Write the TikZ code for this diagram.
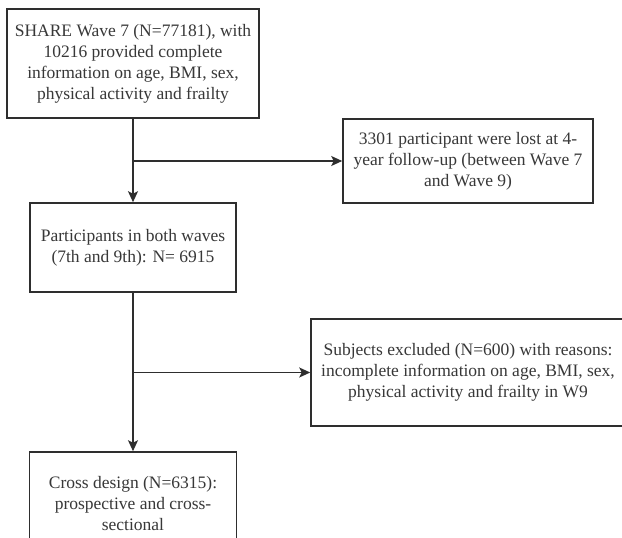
\documentclass[tikz,border=0pt]{standalone}
\usepackage{fontspec}
\setmainfont{Liberation Serif}
\usetikzlibrary{arrows.meta}
\definecolor{linecol}{HTML}{2E2E2E}
\definecolor{textcol}{HTML}{383838}
\begin{document}
\begin{tikzpicture}[x=1pt,y=-1pt,
  box/.style={draw=linecol, line width=1.6pt, fill=white, rectangle, inner sep=0pt,
              align=center, text=textcol, font=\fontsize{17.5}{21}\selectfont},
  conn/.style={draw=linecol, line width=1.6pt},
  arr/.style={conn, -{Stealth[length=11pt,width=10pt,inset=2.5pt]}}]
\useasboundingbox (0,0) rectangle (622,538);
\clip (0,0) rectangle (622,538);
\fill[white] (0,0) rectangle (622,538);

\node[box, minimum width=252pt, minimum height=109pt] (b1) at (133,63.5)
  {SHARE Wave 7 (N=77181), with\\10216 provided complete\\information on age, BMI, sex,\\physical activity and frailty};
\node[box, minimum width=250pt, minimum height=84pt] (b2) at (468,161)
  {3301 participant were lost at 4-\\year follow-up (between Wave 7\\and Wave 9)};
\node[box, minimum width=206pt, minimum height=89pt] (b3) at (133,247.5)
  {Participants in both waves\\(7th and 9th): N= 6915};
\node[box, minimum width=314pt, minimum height=107pt] (b4) at (468,372.5)
  {Subjects excluded (N=600) with reasons:\\incomplete information on age, BMI, sex,\\physical activity and frailty in W9};
\node[box, minimum width=207pt, minimum height=104pt] (b5) at (133,504)
  {Cross design (N=6315):\\prospective and cross-\\sectional};

\coordinate (j1) at (b1.south |- b2.west);
\coordinate (j2) at (b3.south |- b4.west);
\draw[arr] (b1.south) -- (b3.north);
\draw[arr] (j1) -- (b2.west);
\draw[arr] (b3.south) -- (b5.north);
\draw[arr] (j2) -- (b4.west);
\end{tikzpicture}
\end{document}
